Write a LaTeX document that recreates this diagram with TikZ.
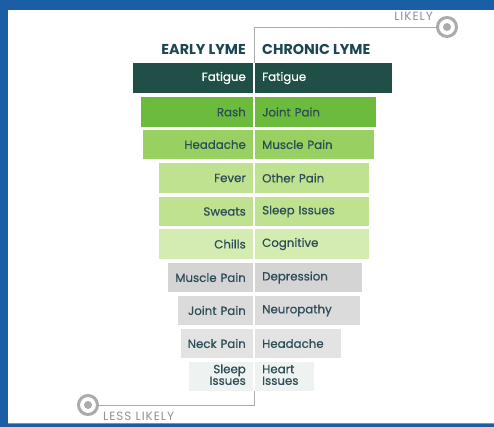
\documentclass[tikz,border=0pt]{standalone}
\usepackage{fontspec}
\setmainfont{Poppins}
\newfontfamily\medfont[FakeBold=0.6]{Poppins}
\newfontfamily\spacedfont[LetterSpace=8]{Poppins}
\definecolor{bgblue}{HTML}{1B5EA6}
\definecolor{bgline}{HTML}{5E9BD0}
\definecolor{txt}{HTML}{2C4D56}
\definecolor{head}{HTML}{1D4650}
\definecolor{cA}{HTML}{1F4F47}
\definecolor{cB}{HTML}{6DBB3C}
\definecolor{cC}{HTML}{98D062}
\definecolor{cD}{HTML}{BEE290}
\definecolor{cE}{HTML}{D4EBB1}
\definecolor{cF}{HTML}{D4D4D4}
\definecolor{cG}{HTML}{DBDBDB}
\definecolor{cH}{HTML}{E3E3E3}
\definecolor{cI}{HTML}{EEF3F1}
\definecolor{gline}{HTML}{ABABAB}
\tikzset{
  cell/.style={inner xsep=7pt, inner ysep=0pt, font=\medfont\fontsize{11.8}{12.6}\selectfont},
  lcell/.style={cell, anchor=east, align=right},
  rcell/.style={cell, anchor=west, align=left},
  heading/.style={font=\fontsize{14.3}{16}\selectfont\bfseries, text=head, inner sep=0pt},
  gtxt/.style={font=\spacedfont\fontsize{12}{13}\selectfont, text=gline!85!black, inner sep=0pt},
  ring/.style={circle, draw=gline, line width=3pt, minimum size=19pt, inner sep=0pt,
    path picture={\fill[gline] (path picture bounding box.center) circle (4pt);}},
  guide/.style={draw=gline, line width=0.8pt}
}
\newcommand\rbox[1]{\makebox[\linewidth][r]{#1}}
\newcommand\lbox[1]{\makebox[\linewidth][l]{#1}}
% #1 name, #2 ytop, #3 ybottom, #4 xleft, #5 xright, #6 fill, #7 text colour, #8 left text, #9 right text
\newcommand\symrow[9]{%
  \node[lcell, fill=#6, text=#7, minimum height={(#3-#2)*1pt}, text width={(253-#4-14)*1pt}]
     (#1l) at (253,{(#2+#3)/2}) {\rbox{#8}};
  \node[rcell, fill=#6, text=#7, minimum height={(#3-#2)*1pt}, text width={(#5-255-14)*1pt}]
     (#1r) at (255,{(#2+#3)/2}) {\lbox{#9}};
}
\begin{document}
\begin{tikzpicture}[x=1pt,y=-1pt]
\useasboundingbox (0,0) rectangle (494,427);
\fill[bgblue] (0,0) rectangle (494,427);
\fill[white] (8,10) rectangle (494,423);
\draw[bgline, line width=0.8pt] (8,423.5) -- (494,423.5);

\node[heading, anchor=base east] (hearly) at (246,55) {EARLY LYME};
\node[heading, anchor=base west] (hchronic) at (262,55) {CHRONIC LYME};

\symrow{fat}{63}{93}{133}{392}{cA}{white}{Fatigue}{Fatigue}
\symrow{rash}{97}{127}{141}{376}{cB}{txt}{Rash}{Joint Pain}
\symrow{head}{130}{159}{143}{374}{cC}{txt}{Headache}{Muscle Pain}
\symrow{fev}{163}{193}{159}{369}{cD}{txt}{Fever}{Other Pain}
\symrow{swe}{197}{226}{159}{369}{cD}{txt}{Sweats}{Sleep Issues}
\symrow{chi}{229}{259}{159}{369}{cE}{txt}{Chills}{Cognitive}
\symrow{mus}{263}{292}{168}{362}{cF}{txt}{Muscle Pain}{Depression}
\symrow{joi}{296}{325}{178}{360}{cG}{txt}{Joint Pain}{Neuropathy}
\symrow{nec}{329}{358}{181}{341}{cH}{txt}{Neck Pain}{Headache}
\symrow{sle}{362}{391}{189}{314}{cI}{txt}{\begin{tabular}{@{}r@{}}Sleep\\[-1pt]Issues\end{tabular}}{\begin{tabular}{@{}l@{}}Heart\\[-1pt]Issues\end{tabular}}

\node[ring] (likely) at (447,27) {};
\node[ring] (less) at (88,405) {};
\coordinate (topc) at (254,27);
\coordinate (botc) at (254,405);
\draw[guide] (likely.west) -- (topc) -- (254,63);
\draw[guide] (254,391) -- (botc) -- (less.east);
\node[gtxt, anchor=base east] (likelyt) at (433,21) {LIKELY};
\node[gtxt, anchor=base west] (lesst) at (103,420) {LESS LIKELY};
\end{tikzpicture}
\end{document}
